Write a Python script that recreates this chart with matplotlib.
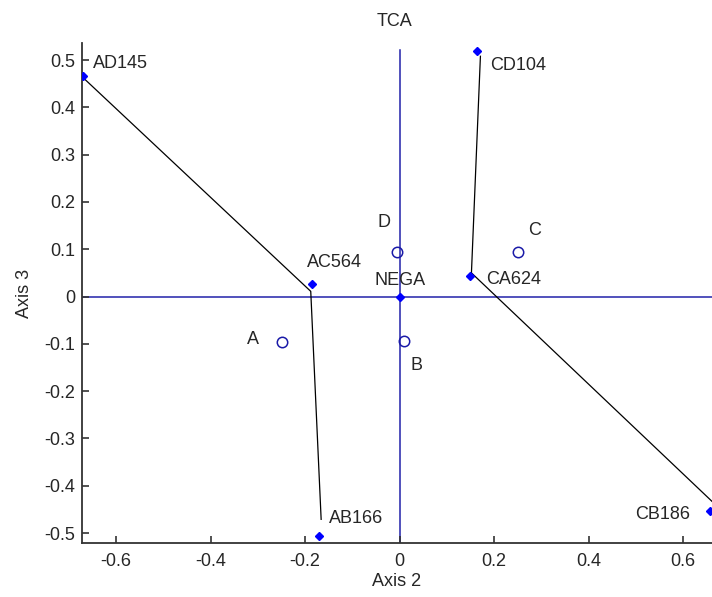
import matplotlib.pyplot as plt

plt.rcParams['font.family'] = ['Liberation Sans', 'DejaVu Sans']
plt.rcParams['axes.unicode_minus'] = False

## Puntos (diamantes) y sus etiquetas
pt_names = ['AD145', 'AC564', 'AB166', 'NEGA', 'CA624', 'CD104', 'CB186']
pt_x = [-0.670, -0.185, -0.170, 0.0, 0.148, 0.164, 0.657]
pt_y = [0.466, 0.027, -0.507, 0.0, 0.044, 0.520, -0.454]

## Circulos
circ_names = ['A', 'B', 'C', 'D']
circ_x = [-0.249, 0.010, 0.250, -0.005]
circ_y = [-0.096, -0.094, 0.094, 0.094]

## Lineas negras
left_x = [-0.670, -0.188, -0.166]
left_y = [0.463, 0.011, -0.471]
right_x = [0.171, 0.152, 0.661]
right_y = [0.508, 0.050, -0.433]

## Eje TCA
tca_x = [0.0, 0.0]
tca_y = [-0.521, 0.522]

text_col = '#262626'
line_blue = '#2222aa'

fig = plt.figure(figsize=(7.12, 5.97), dpi=100)
ax = fig.add_axes([82/712, 54/597, 630/712, 500/597])

ax.axhline(0, color=line_blue, lw=1.1, zorder=1)
ax.plot(tca_x, tca_y, color=line_blue, lw=1.1, zorder=1)
ax.plot(left_x, left_y, color='black', lw=0.9, zorder=2)
ax.plot(right_x, right_y, color='black', lw=0.9, zorder=2)
ax.plot(pt_x, pt_y, 'D', color='#0000ff', ms=4.5, ls='none', zorder=3)
ax.plot(circ_x, circ_y, 'o', mfc='none', mec='#1a1aa8', mew=1.1, ms=7.5, ls='none', zorder=3)

fs = 13
# etiquetas de puntos
offs = {'AD145': (10, 13, 'left'), 'AC564': (-5, 21, 'left'), 'AB166': (10, 18, 'left'),
        'NEGA': (-25, 16, 'left'), 'CA624': (17, -4, 'left'), 'CD104': (13, -15, 'left'),
        'CB186': (-20, -3, 'right')}
for n, x, y in zip(pt_names, pt_x, pt_y):
    dx, dy, ha = offs[n]
    ax.annotate(n, (x, y), xytext=(dx, dy), textcoords='offset pixels',
                ha=ha, va='center', fontsize=fs, color=text_col)
coffs = {'A': (-35, 2), 'B': (6, -24), 'C': (10, 22), 'D': (-20, 30)}
for n, x, y in zip(circ_names, circ_x, circ_y):
    dx, dy = coffs[n]
    ax.annotate(n, (x, y), xytext=(dx, dy), textcoords='offset pixels',
                ha='left', va='center', fontsize=fs, color=text_col)
ax.annotate('TCA', (0.0, 0.522), xytext=(-5, 28), textcoords='offset pixels',
            ha='center', va='center', fontsize=fs, color=text_col, annotation_clip=False)

ax.set_xlim(-0.672, 0.661)
ax.set_ylim(-0.521, 0.536)
ax.set_xticks([-0.6, -0.4, -0.2, 0, 0.2, 0.4, 0.6])
ax.set_xticklabels(['-0.6', '-0.4', '-0.2', '0', '0.2', '0.4', '0.6'])
ax.set_yticks([-0.5, -0.4, -0.3, -0.2, -0.1, 0, 0.1, 0.2, 0.3, 0.4, 0.5])
ax.set_yticklabels(['-0.5', '-0.4', '-0.3', '-0.2', '-0.1', '0', '0.1', '0.2', '0.3', '0.4', '0.5'])
ax.tick_params(direction='in', length=5, width=1.2, colors='#333333', labelsize=fs,
               labelcolor=text_col)
ax.tick_params(axis='x', pad=7)
ax.tick_params(axis='y', pad=5)
for s in ['top', 'right']:
    ax.spines[s].set_visible(False)
for s in ['left', 'bottom']:
    ax.spines[s].set_color('#333333')
    ax.spines[s].set_linewidth(1.3)
ax.set_xlabel('Axis 2', fontsize=fs, color=text_col, labelpad=2)
ax.set_ylabel('Axis 3', fontsize=fs, color=text_col, labelpad=8)

fig.savefig('out.png', dpi=100)
